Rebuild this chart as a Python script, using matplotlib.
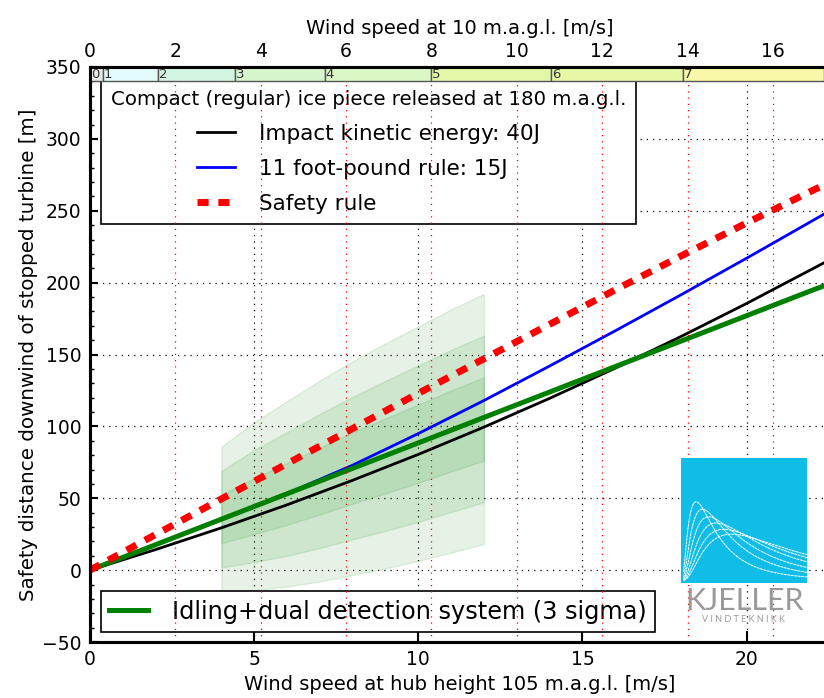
import numpy as np
import matplotlib
matplotlib.use('Agg')
import matplotlib.pyplot as plt
from matplotlib.patches import Rectangle
from matplotlib.ticker import MultipleLocator

# ---------------- data ----------------
hub_speed = [0, 2, 4, 6, 8, 10, 12, 14, 16, 18, 20, 22, 22.5]
impact_40J = [0, 14.3, 29.4, 45.4, 62.5, 80.5, 99.5, 119.5, 140.5, 162.5, 185.5, 209.5, 215.5]
foot_pound_15J = [0, 17.7, 35.4, 53.3, 73.0, 95.0, 118.0, 142.0, 166.5, 191.5, 217.0, 243.0, 249.5]
safety_rule = [0, 24.8, 49.5, 74.0, 98.5, 123.0, 147.0, 171.0, 195.0, 218.5, 241.5, 264.0, 269.5]
idling_dual = [0, 17.7, 35.4, 53.1, 70.8, 88.5, 106.2, 123.9, 141.6, 159.3, 177.0, 194.7, 199.0]

band_speed = [4, 5, 6, 7, 8, 9, 10, 11, 12]
band_mean = [35.5, 44.5, 53.0, 62.0, 71.0, 79.5, 88.0, 96.8, 105.2]
band_sigma = [16.8, 19.5, 21.5, 23.3, 24.8, 26.1, 27.2, 28.2, 29.0]
sigma_levels = [1, 2, 3]

beaufort_lower = [0, 0.3, 1.6, 3.4, 5.5, 8.0, 10.8, 13.9]
beaufort_upper = [0.3, 1.6, 3.4, 5.5, 8.0, 10.8, 13.9, 17.2]
beaufort_labels = ['0', '1', '2', '3', '4', '5', '6', '7']
beaufort_colors = ['#e8e8e8', '#e2fafa', '#d4f4e2', '#d6f5cc', '#dcf7c6',
                   '#e4f7a8', '#e6f8a6', '#f8f8a8']

HUB_TO_10M = 1.30   # wind speed ratio hub height / 10 m
top_ticks = [0, 2, 4, 6, 8, 10, 12, 14, 16]
y_ticks = [-50, 0, 50, 100, 150, 200, 250, 300, 350]
x_ticks = [0, 5, 10, 15, 20]

# logo decoration (curves of the company logo: peak position, peak height)
logo_peaks = [0.12, 0.17, 0.22, 0.28, 0.34, 0.40]
logo_heights = [0.63, 0.57, 0.51, 0.46, 0.41, 0.37]

# ---------------- figure ----------------
fig = plt.figure(figsize=(8.24, 6.98), dpi=100)
fig.patch.set_facecolor('white')
ax = fig.add_axes([90/824, 56/698, 738.7/824, 575/698])
ax.set_xlim(0, 22.5)
ax.set_ylim(-50, 350)

# uncertainty bands
bs = np.array(band_speed)
bm = np.array(band_mean)
bsd = np.array(band_sigma)
for k in sigma_levels:
    ax.fill_between(bs, bm - k*bsd, bm + k*bsd, color='green', alpha=0.1,
                    lw=1, zorder=2)

l_imp, = ax.plot(hub_speed, impact_40J, color='black', lw=2, zorder=3,
                 label='Impact kinetic energy: 40J')
l_fp, = ax.plot(hub_speed, foot_pound_15J, color='blue', lw=2, zorder=3,
                label='11 foot-pound rule: 15J')
l_id, = ax.plot(hub_speed, idling_dual, color='green', lw=3.6, zorder=4,
                label='Idling+dual detection system (3 sigma)')
l_sr, = ax.plot(hub_speed, safety_rule, color='red', lw=5, zorder=5,
                dashes=(1.6, 1.4), label='Safety rule')

ax.set_xticks(x_ticks)
ax.set_yticks(y_ticks)
ax.yaxis.set_minor_locator(MultipleLocator(10))
ax.tick_params(axis='both', which='both', direction='in', top=False, right=False,
               labelsize=13.5, width=1.5, pad=6)
ax.tick_params(axis='x', which='major', length=8)
ax.tick_params(axis='y', which='major', length=6)
ax.tick_params(axis='y', which='minor', length=3, width=1)
for s in ax.spines.values():
    s.set_linewidth(2.2)
ax.grid(True, which='major', color='black', linestyle=(0, (1, 4)), lw=0.9)

ax.set_xlabel('Wind speed at hub height 105 m.a.g.l. [m/s]', fontsize=14, labelpad=4)
ax.set_ylabel('Safety distance downwind of stopped turbine [m]', fontsize=14.3, labelpad=3)

leg1 = ax.legend(handles=[l_imp, l_fp, l_sr], loc='upper left',
                 bbox_to_anchor=(11/738.7, 1 - 13/575), borderaxespad=0,
                 fontsize=15.5, title='Compact (regular) ice piece released at 180 m.a.g.l.',
                 title_fontsize=14.2, fancybox=False, framealpha=1,
                 edgecolor='black', handlelength=1.75, labelspacing=0.7,
                 handletextpad=1.1, borderpad=0.45)
leg1.get_frame().set_linewidth(1.2)
ax.add_artist(leg1)
leg2 = ax.legend(handles=[l_id], loc='lower left',
                 bbox_to_anchor=(11/738.7, 10/575), borderaxespad=0,
                 fontsize=17.3, fancybox=False, framealpha=1, edgecolor='black',
                 handlelength=1.6, handletextpad=1.0, borderpad=0.35)
leg2.get_frame().set_linewidth(1.2)

# ---------------- top axis (10 m wind speed) ----------------
ax2 = ax.twiny()
ax2.set_xlim(0, 22.5 / HUB_TO_10M)
ax2.set_xticks(top_ticks)
ax2.xaxis.set_minor_locator(MultipleLocator(0.5))
ax2.tick_params(axis='x', which='both', direction='in', labelsize=13.5, width=1.2, pad=4)
ax2.tick_params(axis='x', which='major', length=6)
ax2.tick_params(axis='x', which='minor', length=3)
ax2.grid(True, axis='x', color='red', linestyle=(0, (1, 4)), lw=0.9)
ax2.set_xlabel('Wind speed at 10 m.a.g.l. [m/s]', fontsize=14, labelpad=6)
for s in ax2.spines.values():
    s.set_linewidth(2.2)

# Beaufort strip
for lo, hi, lab, col in zip(beaufort_lower, beaufort_upper, beaufort_labels, beaufort_colors):
    ax2.add_patch(Rectangle((lo, 340.5), hi - lo, 9.5, facecolor=col,
                            edgecolor='#555555', lw=1.0, zorder=1.8))
    ax2.text(lo + 0.02, 349.6, lab, fontsize=9.5, ha='left', va='top',
             color='#333333', zorder=3)

# ---------------- logo ----------------
lax = fig.add_axes([681/824, 1 - 583/698, 126/824, 125/698])
lax.set_xlim(0, 1)
lax.set_ylim(0, 1)
lax.set_facecolor('#10bde6')
for s in lax.spines.values():
    s.set_visible(False)
lax.set_xticks([])
lax.set_yticks([])
xx = np.linspace(0.02, 1, 200)
for p, h in zip(logo_peaks, logo_heights):
    yy = h * np.exp(-(np.log(xx / p)) ** 2 / (2 * 0.85 ** 2)) + 0.02
    lax.plot(xx, yy, color='white', lw=0.7, ls=(0, (3, 0.6)))
fig.text(744/824, 1 - 601/698, 'KJELLER', fontsize=22, color='#999999',
         ha='center', va='center', family=['Lato', 'DejaVu Sans'])
fig.text(744/824, 1 - 620/698, 'V I N D T E K N I K K', fontsize=6.5, color='#999999',
         ha='center', va='center', family=['Lato', 'DejaVu Sans'])

fig.savefig('out.png', dpi=100, facecolor='white')
